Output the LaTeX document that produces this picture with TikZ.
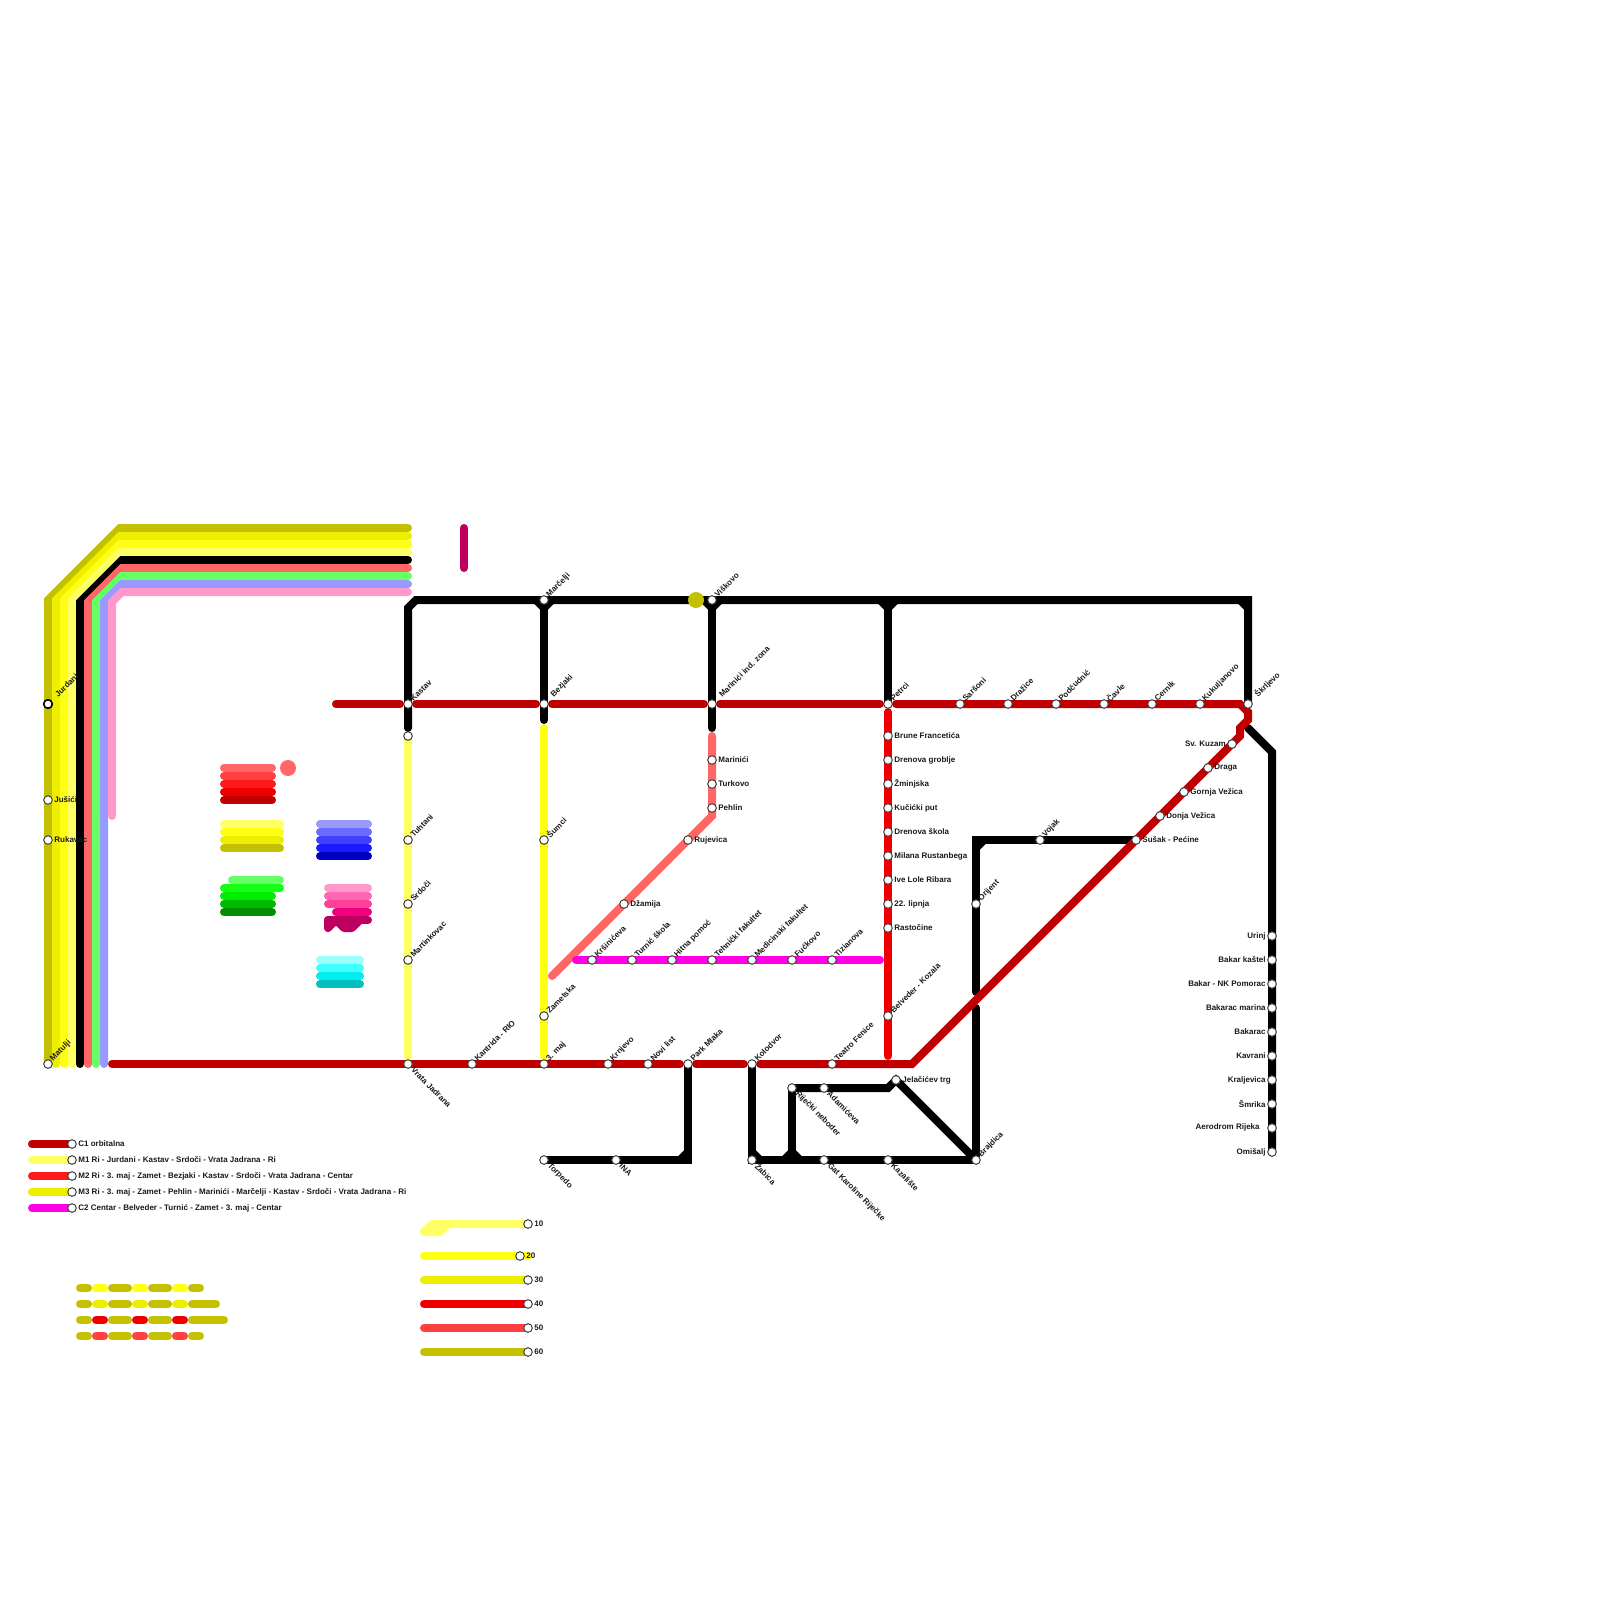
\documentclass[tikz,border=0pt]{standalone}
\usepackage{fontspec}
\setmainfont{Liberation Sans}
\definecolor{cred}{HTML}{C00000}
\definecolor{red1}{HTML}{FF6666}
\definecolor{red2}{HTML}{FF4040}
\definecolor{red3}{HTML}{FF1A1A}
\definecolor{red4}{HTML}{EE0000}
\definecolor{yel1}{HTML}{FFFF66}
\definecolor{yel2}{HTML}{FFFF14}
\definecolor{yel3}{HTML}{EEEE00}
\definecolor{yel4}{HTML}{C2C000}
\definecolor{blu1}{HTML}{9999FF}
\definecolor{blu2}{HTML}{6B6BFF}
\definecolor{blu3}{HTML}{4040FF}
\definecolor{blu4}{HTML}{1A1AFF}
\definecolor{blu5}{HTML}{0000C0}
\definecolor{grn1}{HTML}{66FF66}
\definecolor{grn2}{HTML}{14FF14}
\definecolor{grn3}{HTML}{00EE00}
\definecolor{grn4}{HTML}{00BB00}
\definecolor{grn5}{HTML}{008F00}
\definecolor{pnk1}{HTML}{FF99CC}
\definecolor{pnk2}{HTML}{FF66B3}
\definecolor{pnk3}{HTML}{FF4099}
\definecolor{pnk4}{HTML}{F0007F}
\definecolor{pnk5}{HTML}{BD0060}
\definecolor{cya1}{HTML}{99FFFF}
\definecolor{cya2}{HTML}{40FFFF}
\definecolor{cya3}{HTML}{00EEEE}
\definecolor{cya4}{HTML}{00C0C0}
\definecolor{mag}{HTML}{FF00E6}

\def\stations{jurdani/48/704/lblfar/Jurdani, jusici/48/800/lblrt/Jušići, rukavac/48/840/lblrt/Rukavac, matulji/48/1064/lblup/Matulji,
  kastav/408/704/lblup/Kastav, tuhtani/408/840/lblup/Tuhtani, srdoci/408/904/lblup/Srdoči, martinkovac/408/960/lblup/Martinkovac, vratajadrana/408/1064/lbldn/Vrata Jadrana,
  marcelji/544/600/lblup/Marčelji, bezjaki/544/704/lblfar/Bezjaki, sumci/544/840/lblup/Šumci, zametska/544/1016/lblup/Zametska, trimaj/544/1064/lblup/3. maj,
  viskovo/712/600/lblup/Viškovo, marinind/712/704/lblfar/Marinići ind. zona, marinici/712/760/lblrt/Marinići, turkovo/712/784/lblrt/Turkovo, pehlin/712/808/lblrt/Pehlin,
  rujevica/688/840/lblrt/Rujevica, dzamija/624/904/lblrt/Džamija,
  petrci/888/704/lblup/Petrci, brune/888/736/lblrt/Brune Francetića, drenovag/888/760/lblrt/Drenova groblje, zminjska/888/784/lblrt/Žminjska, kucicki/888/808/lblrt/Kučićki put,
  drenovas/888/832/lblrt/Drenova škola, milana/888/856/lblrt/Milana Rustanbega, ive/888/880/lblrt/Ive Lole Ribara, lipnja/888/904/lblrt/22. lipnja, rastocine/888/928/lblrt/Rastočine, belveder/888/1016/lblup/Belveder - Kozala,
  sarsoni/960/704/lblup/Saršoni, drazice/1008/704/lblup/Dražice, podcudnic/1056/704/lblup/Podčudnić, cavle/1104/704/lblup/Čavle, cernik/1152/704/lblup/Cernik, kukuljanovo/1200/704/lblup/Kukuljanovo, skrljevo/1248/704/lblfar/Škrljevo,
  kuzam/1232/744/lbllf/Sv. Kuzam, draga/1208/768/lblrt/Draga, gornja/1184/792/lblrt/Gornja Vežica, donja/1160/816/lblrt/Donja Vežica, susak/1136/840/lblrt/Sušak - Pećine,
  vojak/1040/840/lblup/Vojak, orijent/976/904/lblup/Orijent, brajdica/976/1160/lblup/Brajdica,
  krsiniceva/592/960/lblup/Kršinićeva, turnic/632/960/lblup/Turnić škola, hitna/672/960/lblup/Hitna pomoć, tehnicki/712/960/lblup/Tehnički fakultet, medicinski/752/960/lblup/Medicinski fakultet, fuckovo/792/960/lblup/Fućkovo, tizianova/832/960/lblup/Tizianova,
  kantrida/472/1064/lblup/Kantrida - RIO, krnjevo/608/1064/lblup/Krnjevo, novilist/648/1064/lblup/Novi list, parkmlaka/688/1064/lblup/Park Mlaka, kolodvor/752/1064/lblup/Kolodvor, teatro/832/1064/lblup/Teatro Fenice,
  jelacic/896/1080/lblrt/Jelačićev trg, neboder/792/1088/lbldn/Riječki neboder, adamiceva/824/1088/lbldn/Adamićeva,
  torpedo/544/1160/lbldn/Torpedo, ina/616/1160/lbldn/INA, zabica/752/1160/lbldn/Žabica, gat/824/1160/lbldn/Gat Karoline Riječke, kazaliste/888/1160/lbldn/Kazalište,
  urinj/1272/936/lbllf/Urinj, bakark/1272/960/lbllf/Bakar kaštel, pomorac/1272/984/lbllf/Bakar - NK Pomorac, marina/1272/1008/lbllf/Bakarac marina, bakarac/1272/1032/lbllf/Bakarac, kavrani/1272/1056/lbllf/Kavrani, kraljevica/1272/1080/lbllf/Kraljevica, smrika/1272/1104/lbllf/Šmrika, aerodrom/1272/1128/lblfl/Aerodrom Rijeka, omisalj/1272/1152/lbllf/Omišalj,
  leg1/72/1144/lblrt/C1 orbitalna, leg2/72/1160/lblrt/M1 Ri - Jurdani - Kastav - Srdoči - Vrata Jadrana - Ri, leg3/72/1176/lblrt/M2 Ri - 3. maj - Zamet - Bezjaki - Kastav - Srdoči - Vrata Jadrana - Centar, leg4/72/1192/lblrt/M3 Ri - 3. maj - Zamet - Pehlin - Marinići - Marčelji - Kastav - Srdoči - Vrata Jadrana - Ri, leg5/72/1208/lblrt/C2 Centar - Belveder - Turnić - Zamet - 3. maj - Centar,
  num10/528/1224/lblrt/10, num20/520/1256/lblrt/20, num30/528/1280/lblrt/30, num40/528/1304/lblrt/40, num50/528/1328/lblrt/50, num60/528/1352/lblrt/60}

\begin{document}
\begin{tikzpicture}[x=0.5pt, y=-0.5pt,
    every node/.style={font=\fontsize{4}{5}\selectfont\bfseries, inner sep=0pt, text=black!90},
    ln/.style={line width=4pt, line cap=round, line join=miter},
    gapboth/.style={shorten <=4pt, shorten >=4pt},
    stn/.style={circle, draw=black!75, fill=white, line width=0.5pt, minimum size=4.3pt},
    lblup/.style={shift={(3.5,-4)}, rotate=45, anchor=west},
    lblfar/.style={shift={(8,-8)}, rotate=45, anchor=west},
    lbldn/.style={shift={(4.5,4.5)}, rotate=-45, anchor=west},
    lblrt/.style={shift={(6,0)}, anchor=west},
    lbllf/.style={shift={(-6,0)}, anchor=east},
    lblfl/.style={shift={(-12,-1)}, anchor=east}]
    \useasboundingbox (0,0) rectangle (1600,1600);

    \foreach \s/\x/\y/\k/\t in \stations {
        \coordinate (\s) at (\x,\y);
    }
    \foreach \s/\x/\y in {kastavs/408/736, c1w/336/704, c1s/112/1064, ne1/1240/704, ne2/1248/712, ne3/1248/720, ne4/1240/728, ne5/1240/736, se1/912/1064,
        bkas/408/728, bkc1/408/608, bkc2/416/600, bne/1248/600, bbez/544/720, bmar/712/728,
        bsk/1248/728, bsk2/1272/752, bor1/976/992, bor2/976/840, bor3/976/1008, bmla/688/1160, bjel/888/1088, bnk/752/1160,
        ykas/408/1056, ybez/544/728, ymaj/544/1056, ckor/712/736, cpe/712/816, cend/552/976, rtop/888/712, rbot/888/1056, mw/576/960, me/880/960} {
        \coordinate (\s) at (\x,\y);
    }

    \foreach \c/\x/\y/\e/\p/\q in {yel4/48/528/1064/600/120, yel3/56/536/1064/600/120, yel2/64/544/1064/600/120, yel1/72/552/1064/600/120, black/80/560/1064/602/122, red1/88/568/1064/602/122, grn1/96/576/1064/602/122, blu1/104/584/1064/602/122, pnk1/112/592/816/602/122} {
        \draw[ln, \c] (\x,\e) -- (\x,\p) -- (\q,\y) -- (408,\y);
    }
    \draw[ln, pnk5] (464,528) -- (464,568);
    \node[circle, fill=red1, minimum size=8pt] (coralDot) at (288,768) {};

    \foreach \y/\a/\b/\c in {768/224/272/red1, 776/224/272/red2, 784/224/272/red3, 792/224/272/red4, 800/224/272/cred,
        824/224/280/yel1, 832/224/280/yel2, 840/224/280/yel3, 848/224/280/yel4,
        824/320/368/blu1, 832/320/368/blu2, 840/320/368/blu3, 848/320/368/blu4, 856/320/368/blu5,
        880/232/280/grn1, 888/224/280/grn2, 896/224/272/grn3, 904/224/272/grn4, 912/224/272/grn5,
        888/328/368/pnk1, 896/328/368/pnk2, 904/328/368/pnk3, 912/336/368/pnk4, 920/328/368/pnk5,
        960/320/360/cya1, 968/320/360/cya2, 976/320/360/cya3, 984/320/360/cya4} {
        \draw[ln, \c] (\a,\y) -- (\b,\y);
    }
    \draw[ln, pnk5, line join=round] (328,920) -- (328,928) -- (336,920) -- (344,928) -- (352,928) -- (360,920);

    \foreach \y/\c/\e in {1288/yel2/200, 1304/yel3/216, 1320/red4/224, 1336/red2/200} {
        \draw[ln, yel4] (80,\y) -- (88,\y);
        \draw[ln, yel4] (112,\y) -- (128,\y);
        \draw[ln, yel4] (152,\y) -- (168,\y);
        \draw[ln, yel4] (192,\y) -- (\e,\y);
        \draw[ln, \c] (96,\y) -- (104,\y);
        \draw[ln, \c] (136,\y) -- (144,\y);
        \draw[ln, \c] (176,\y) -- (184,\y);
    }

    \draw[ln, cred] (32,1144) -- (leg1);
    \draw[ln, yel1] (32,1160) -- (leg2);
    \draw[ln, red3] (32,1176) -- (leg3);
    \draw[ln, yel3] (32,1192) -- (leg4);
    \draw[ln, mag] (32,1208) -- (leg5);

    \draw[ln, yel1, line join=round] (num10) -- (432,1224) -- (424,1232) -- (440,1232) -- (448,1224);
    \draw[ln, yel2] (424,1256) -- (528,1256);
    \draw[ln, yel3] (424,1280) -- (num30);
    \draw[ln, red4] (424,1304) -- (num40);
    \draw[ln, red2] (424,1328) -- (num50);
    \draw[ln, yel4] (424,1352) -- (num60);

    \draw[ln, yel1] (kastavs) -- (ykas);
    \draw[ln, yel2] (ybez) -- (ymaj);
    \draw[ln, red1] (ckor) -- (cpe) -- (cend);
    \draw[ln, red4] (rtop) -- (rbot);
    \draw[ln, mag] (mw) -- (me);

    \draw[ln, black] (bkas) -- (bkc1) -- (bkc2) -- (bne) -- (skrljevo);
    \draw[ln, black] (marcelji) -- (bbez);
    \draw[ln, black] (viskovo) -- (bmar);
    \draw[ln, black] (888,600) -- (petrci);
    \draw[ln, black] (bsk) -- (bsk2) -- (omisalj);
    \draw[ln, black] (bor1) -- (bor2) -- (susak);
    \draw[ln, black] (bor3) -- (brajdica);
    \draw[ln, black] (parkmlaka) -- (bmla) -- (torpedo);
    \draw[ln, black] (kolodvor) -- (bnk) -- (brajdica);
    \draw[ln, black] (neboder) -- (792,1160);
    \draw[ln, black] (neboder) -- (bjel) -- (jelacic) -- (brajdica);

    \draw[ln, black] (536,600) -- (544,608) -- (552,600);
    \draw[ln, black] (704,600) -- (712,608) -- (720,600);
    \draw[ln, black] (880,600) -- (888,608) -- (896,600);
    \draw[ln, black] (1240,600) -- (1248,608);
    \draw[ln, black] (976,848) -- (984,840);
    \draw[ln, black] (680,1160) -- (688,1152);
    \draw[ln, black] (752,1152) -- (760,1160);
    \draw[ln, black] (784,1160) -- (792,1152) -- (800,1160);
    \draw[ln, black] (968,1160) -- (976,1152);
    \node[circle, fill=yel4, minimum size=8pt] (oliveDot) at (696,600) {};

    \draw[ln, cred, shorten >=4pt] (c1w) -- (kastav);
    \draw[ln, cred, gapboth] (kastav) -- (bezjaki);
    \draw[ln, cred, gapboth] (bezjaki) -- (marinind);
    \draw[ln, cred, gapboth] (marinind) -- (petrci);
    \draw[ln, cred, gapboth] (petrci) -- (ne1) -- (ne2) -- (ne3) -- (ne4) -- (ne5) -- (se1) -- (kolodvor);
    \draw[ln, cred, shorten >=4pt] (c1s) -- (parkmlaka);
    \draw[ln, cred, gapboth] (parkmlaka) -- (kolodvor);

    \node[stn] (stkastavs) at (kastavs) {};
    \foreach \s/\x/\y/\k/\t in \stations {
        \node[stn] (st\s) at (\s) {};
        \node[\k] (lb\s) at (\s) {\t};
    }
    \node[stn, draw=black, line width=0.8pt] (stjurdanibold) at (jurdani) {};
\end{tikzpicture}
\end{document}
